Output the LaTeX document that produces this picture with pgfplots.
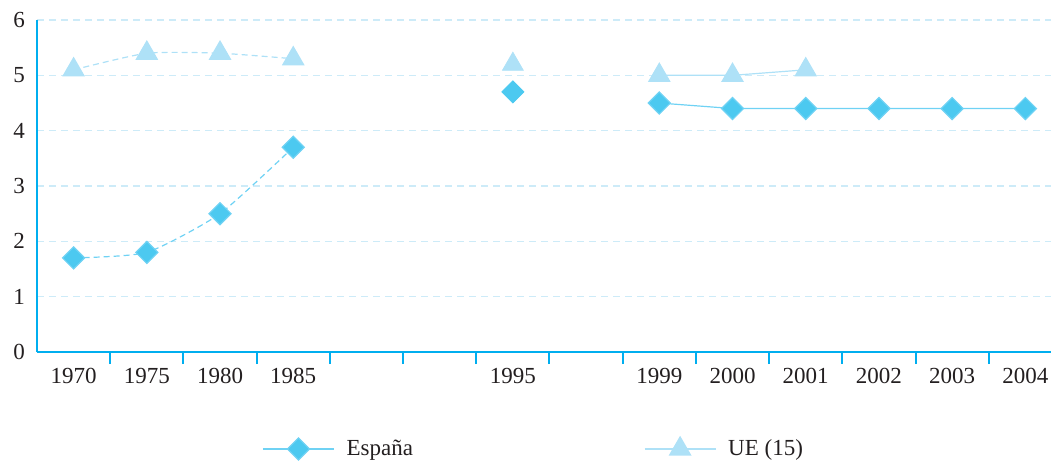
\documentclass[border=0pt]{standalone}
\usepackage{fontspec}
\setmainfont{Liberation Serif}
\usepackage{pgfplots}
\pgfplotsset{compat=1.18}
\definecolor{axc}{HTML}{00AEEF}
\definecolor{esp}{HTML}{4CC9F0}
\definecolor{espl}{HTML}{6FD2F4}
\definecolor{ue}{HTML}{AEE1F7}
\definecolor{gridc}{HTML}{CDEBF8}
\definecolor{txt}{HTML}{231F20}
\begin{document}
\begin{tikzpicture}
\path[use as bounding box] (0,0) rectangle (525.5pt,231.5pt);
\begin{axis}[
  at={(18.5pt,55.5pt)}, anchor=south west,
  scale only axis, width=507pt, height=166pt,
  xmin=-0.5, xmax=13.35, ymin=0, ymax=6,
  axis x line*=bottom, axis y line*=left,
  axis line style={draw=axc, line width=1pt, -},
  xtick={0,...,13},
  xticklabels={1970,1975,1980,1985,{},{},1995,{},1999,2000,2001,2002,2003,2004},
  minor xtick={0.5,1.5,...,12.5},
  ytick={0,1,...,6},
  major tick length=0pt, minor tick length=6pt,
  tick align=outside,
  minor tick style={draw=axc, line width=1pt},
  ymajorgrids, grid style={draw=gridc, line width=0.6pt, dash pattern=on 3.5pt off 2.5pt},
  /pgf/number format/assume math mode=true,
  tick label style={font=\fontsize{11.5}{13}\selectfont, text=txt},
  xticklabel style={yshift=-4.5pt},
  yticklabel style={xshift=-2.5pt},
  clip=false,
  legend style={draw=none, fill=none, inner sep=0pt, at={(0.2219,-0.292)}, anchor=west,
    legend columns=2, font=\fontsize{11.5}{13}\selectfont, text=txt,
    /tikz/every odd column/.append style={column sep=4pt},
    /tikz/every even column/.append style={column sep=113.5pt}},
  legend image code/.code={
    \draw[mark repeat=2, mark phase=2] plot coordinates {(0pt,0pt) (17.75pt,0pt) (35.5pt,0pt)};
  },
]
% solid segments with legend
\addplot[color=espl, line width=0.6pt, mark=square*, mark size=3.9pt,
  mark options={rotate=45, fill=esp, draw=none, solid}]
  coordinates {(8,4.5) (9,4.4) (10,4.4) (11,4.4) (12,4.4) (13,4.4)};
\addlegendentry{España}
\addplot[color=ue, line width=0.6pt, mark=triangle*, mark size=6pt,
  mark options={fill=ue, draw=none, solid}]
  coordinates {(8,5.0) (9,5.0) (10,5.1)};
\addlegendentry{UE (15)}
% dashed early segments
\addplot[forget plot, color=espl, line width=0.6pt, smooth, tension=0.35, dash pattern=on 3pt off 2pt, mark=square*, mark size=3.9pt,
  mark options={rotate=45, fill=esp, draw=none, solid}]
  coordinates {(0,1.7) (1,1.8) (2,2.5) (3,3.7)};
\addplot[forget plot, color=ue, line width=0.6pt, smooth, tension=0.35, dash pattern=on 3pt off 2pt, mark=triangle*, mark size=6pt,
  mark options={fill=ue, draw=none, solid}]
  coordinates {(0,5.1) (1,5.4) (2,5.4) (3,5.3)};
% lone 1995 values
\addplot[forget plot, only marks, color=esp, mark=square*, mark size=3.9pt,
  mark options={rotate=45, fill=esp, draw=none}]
  coordinates {(6,4.7)};
\addplot[forget plot, only marks, color=ue, mark=triangle*, mark size=6pt,
  mark options={fill=ue, draw=none}]
  coordinates {(6,5.2)};
\end{axis}
\end{tikzpicture}
\end{document}
